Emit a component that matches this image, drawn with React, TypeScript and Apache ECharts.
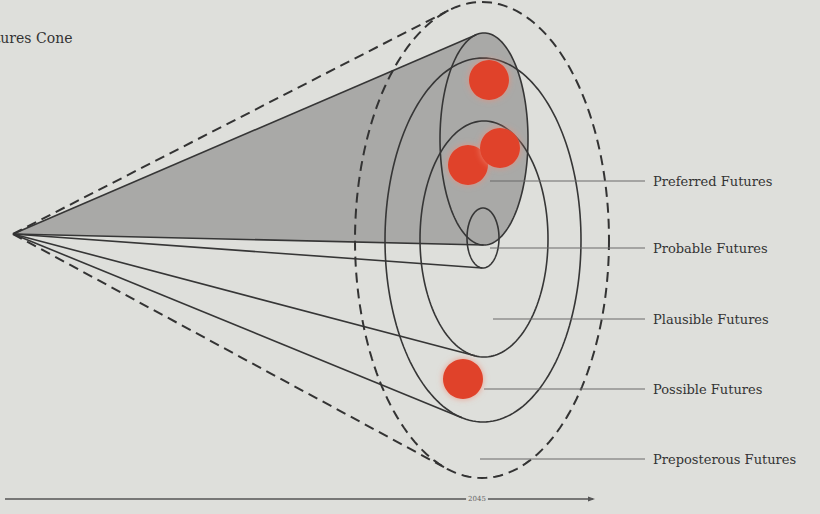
import React, { useEffect, useRef } from "react";
import * as echarts from "echarts";

// ---- data ----
const futures = ["Preferred Futures", "Probable Futures", "Plausible Futures", "Possible Futures", "Preposterous Futures"];
// ellipse geometry (diagram units = canvas pixels)
const ellipseCX = [484, 483, 484, 483, 482];
const ellipseCY = [139, 238, 239, 240, 240];
const ellipseRX = [44, 16, 64, 98, 127];
const ellipseRY = [106, 30, 118, 182, 238];
const apex = [13, 234];
// tangent lines drawn from apex: [upper, lower]
const upperTangent = [1, 0, 0, 0, 1];
const lowerTangent = [1, 1, 1, 1, 1];
const dashed = [0, 0, 0, 0, 1];
// label leader lines
const leaderStartX = [490, 490, 493, 484, 480];
const leaderY = [181, 248, 319, 389, 459];
const leaderEndX = [645, 645, 645, 645, 645];
// red "scenario" dots
const dotX = [489, 468, 500, 463];
const dotY = [80, 165, 148, 379];
// timeline
const timelineX = [5, 593];
const timelineY = 499;
const timelineLabel = "2045";
const timelineLabelX = 477;
const title = "Futures Cone";

const BG = "#dedfdb";
const INK = "#363636";
const GREY = "#a9a9a7";
const RED = "#e0432a";
const FONT = "DejaVu Serif";

function tangents(cx: number, cy: number, a: number, b: number, px: number, py: number) {
  const ux = (px - cx) / a;
  const uy = (py - cy) / b;
  const d = Math.sqrt(ux * ux + uy * uy);
  const t0 = Math.atan2(uy, ux);
  const al = Math.acos(1 / d);
  const p1 = [cx + a * Math.cos(t0 + al), cy + b * Math.sin(t0 + al)];
  const p2 = [cx + a * Math.cos(t0 - al), cy + b * Math.sin(t0 - al)];
  return p1[1] < p2[1] ? { upper: p1, lower: p2 } : { upper: p2, lower: p1 };
}

function ellipsePts(api: any, cx: number, cy: number, a: number, b: number) {
  const pts: number[][] = [];
  for (let k = 0; k < 180; k++) {
    const t = (k / 180) * Math.PI * 2;
    pts.push(api.coord([cx + a * Math.cos(t), cy + b * Math.sin(t)]));
  }
  return pts;
}

export default function App() {
  const ref = useRef<HTMLDivElement>(null);
  useEffect(() => {
    document.body.style.margin = "0";
    const chart = echarts.init(ref.current!, null, { renderer: "svg" });
    const ellipseData = futures.map((_, i) => [ellipseCX[i], ellipseCY[i], ellipseRX[i], ellipseRY[i], i]);
    const option: any = {
      animation: false,
      backgroundColor: BG,
      grid: { left: 0, right: 0, top: 0, bottom: 0 },
      xAxis: { type: "value", min: 0, max: 820, show: false },
      yAxis: { type: "value", min: 0, max: 514, inverse: true, show: false },
      graphic: [
        {
          type: "text",
          left: -24,
          top: 31,
          style: { text: title, font: `14px ${FONT}`, fill: "#333" },
        },
      ],
      series: [
        {
          // grey "preferred" cone fill
          type: "custom",
          z: 1,
          silent: true,
          data: [ellipseData[0]],
          renderItem: (params: any, api: any) => {
            const cx = api.value(0), cy = api.value(1), a = api.value(2), b = api.value(3);
            const tg = tangents(cx, cy, a, b, apex[0], apex[1]);
            return {
              type: "group",
              children: [
                {
                  type: "polygon",
                  shape: { points: [api.coord(apex), api.coord(tg.upper), api.coord([cx, cy]), api.coord(tg.lower)] },
                  style: { fill: GREY, stroke: "none" },
                },
                {
                  type: "polygon",
                  shape: { points: ellipsePts(api, cx, cy, a, b) },
                  style: { fill: GREY, stroke: "none" },
                },
              ],
            };
          },
        },
        {
          // ellipses + cone edges
          type: "custom",
          z: 2,
          silent: true,
          data: ellipseData,
          renderItem: (params: any, api: any) => {
            const cx = api.value(0), cy = api.value(1), a = api.value(2), b = api.value(3), i = api.value(4);
            const tg = tangents(cx, cy, a, b, apex[0], apex[1]);
            const style: any = { fill: "none", stroke: INK, lineWidth: 1.6 };
            if (dashed[i]) {
              style.lineDash = [10, 6];
              style.stroke = "#333";
              style.lineWidth = 2;
            }
            const children: any[] = [
              { type: "polygon", shape: { points: ellipsePts(api, cx, cy, a, b) }, style },
            ];
            const A = api.coord(apex);
            if (upperTangent[i]) {
              const U = api.coord(tg.upper);
              children.push({ type: "line", shape: { x1: A[0], y1: A[1], x2: U[0], y2: U[1] }, style });
            }
            if (lowerTangent[i]) {
              const L = api.coord(tg.lower);
              children.push({ type: "line", shape: { x1: A[0], y1: A[1], x2: L[0], y2: L[1] }, style });
            }
            return { type: "group", children };
          },
        },
        {
          // leader lines + labels
          type: "custom",
          z: 3,
          silent: true,
          data: futures.map((_, i) => [leaderStartX[i], leaderY[i], leaderEndX[i], i]),
          renderItem: (params: any, api: any) => {
            const s = api.coord([api.value(0), api.value(1)]);
            const e = api.coord([api.value(2), api.value(1)]);
            const i = api.value(3);
            return {
              type: "group",
              children: [
                { type: "line", shape: { x1: s[0], y1: s[1], x2: e[0], y2: e[1] }, style: { stroke: "#6a6a6a", lineWidth: 1.2 } },
                {
                  type: "text",
                  x: e[0] + 8,
                  y: e[1],
                  style: { text: futures[i], font: `13px ${FONT}`, fill: "#333", verticalAlign: "middle", align: "left" },
                },
              ],
            };
          },
        },
        {
          // red dots
          type: "scatter",
          z: 4,
          silent: true,
          symbol: "circle",
          symbolSize: 40,
          data: dotX.map((x, i) => [x, dotY[i]]),
          itemStyle: { color: RED, opacity: 1, shadowColor: "rgba(240,140,120,0.8)", shadowBlur: 6 },
        },
        {
          // timeline
          type: "custom",
          z: 3,
          silent: true,
          data: [[timelineX[0], timelineX[1], timelineY, timelineLabelX]],
          renderItem: (params: any, api: any) => {
            const s = api.coord([api.value(0), api.value(2)]);
            const e = api.coord([api.value(1), api.value(2)]);
            const m = api.coord([api.value(3), api.value(2)]);
            return {
              type: "group",
              children: [
                { type: "line", shape: { x1: s[0], y1: s[1], x2: e[0], y2: e[1] }, style: { stroke: "#555", lineWidth: 1.3 } },
                {
                  type: "polygon",
                  shape: { points: [[e[0] + 2, e[1]], [e[0] - 5, e[1] - 2.5], [e[0] - 5, e[1] + 2.5]] },
                  style: { fill: "#555" },
                },
                {
                  type: "text",
                  x: m[0],
                  y: m[1],
                  style: {
                    text: timelineLabel,
                    font: `7px ${FONT}`,
                    fill: "#666",
                    align: "center",
                    verticalAlign: "middle",
                    backgroundColor: BG,
                    padding: [1, 2],
                  },
                },
              ],
            };
          },
        },
      ],
    };
    chart.setOption(option);
    return () => chart.dispose();
  }, []);
  return <div ref={ref} style={{ position: "fixed", left: 0, top: 0, width: 820, height: 514 }} />;
}
